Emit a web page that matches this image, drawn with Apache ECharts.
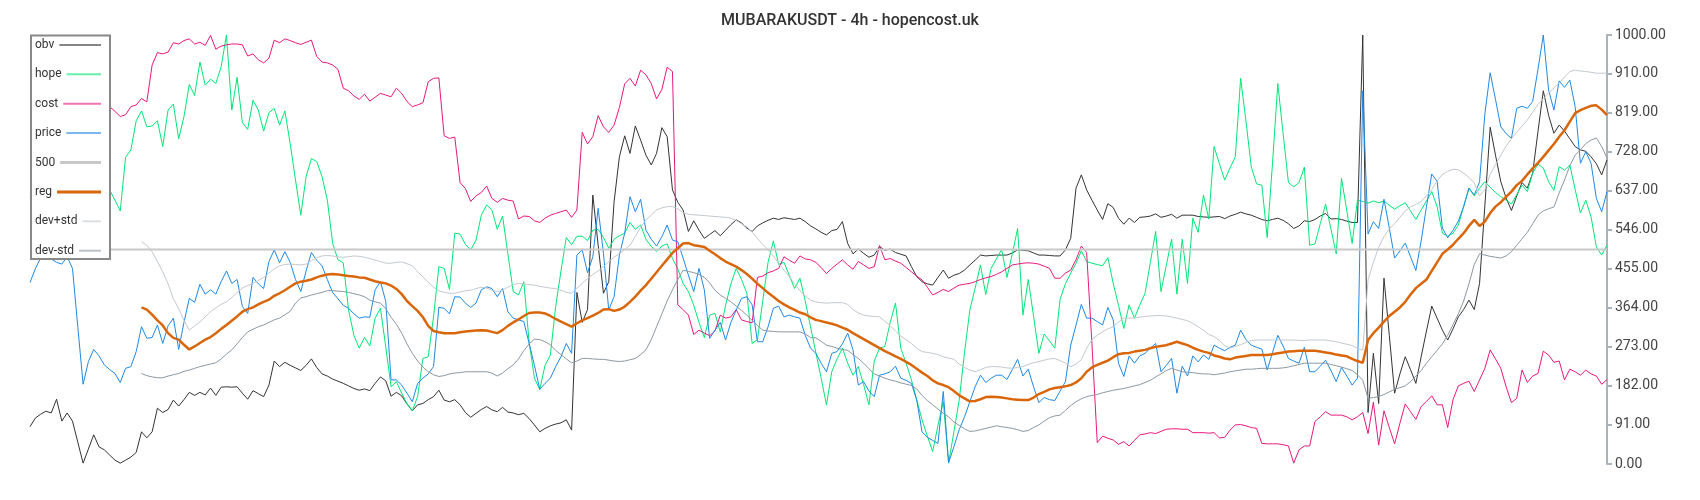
<!DOCTYPE html>
<html>
<head>
<meta charset="utf-8">
<script src="https://cdn.jsdelivr.net/npm/echarts@6/dist/echarts.min.js"></script>
<style>
html,body{margin:0;padding:0;background:#fff;}
#chart{width:1700px;height:500px;}
</style>
</head>
<body>
<div id="chart"></div>
<script>
const TITLE = 'MUBARAKUSDT - 4h - hopencost.uk';
const seriesNames = ['obv', 'hope', 'cost', 'price', '500', 'reg', 'dev+std', 'dev-std'];
const yTicks = { min: 0, max: 1000, interval: 91 };
const THRESHOLD = 500;

const obv = [
87,107,116,123,119,151,100,119,100,51,
2,35,68,40,33,21,9,2,9,16,
27,75,61,75,130,120,127,149,135,150,
167,160,167,161,177,160,179,180,179,180,
165,151,171,164,157,184,240,227,237,230,
224,218,230,245,225,210,205,198,193,188,
182,176,172,175,171,188,203,194,158,167,
159,140,124,138,141,150,157,172,149,145,
150,138,120,109,118,127,134,126,122,132,
121,119,115,118,106,91,75,83,89,93,
96,103,79,400,330,360,627,510,398,425,
611,716,765,724,788,755,720,697,724,784,
763,639,610,592,542,567,545,526,535,544,
532,545,558,569,562,550,542,555,562,568,
573,570,574,572,570,573,565,555,548,540,
534,544,547,565,514,490,501,491,482,487,
507,498,501,493,489,485,460,437,425,420,
417,435,452,433,440,444,452,464,475,487,
485,486,487,487,487,492,499,498,497,492,
487,487,486,485,485,499,526,643,674,639,
615,592,570,607,598,573,559,573,563,575,
576,578,583,575,578,582,573,580,580,580,
577,576,575,576,577,572,578,582,587,583,
580,575,570,567,570,573,568,560,549,555,
567,565,570,578,584,571,572,570,566,563,
563,1000,120,258,141,433,300,165,210,250,
220,188,250,310,368,340,312,289,315,343,
360,382,360,421,603,785,720,658,620,591,
625,656,643,678,775,870,813,771,790,776,
758,740,732,729,716,700,674,709
];

const hope = [
620,640,610,650,670,640,600,620,650,680,
700,660,640,620,630,639,615,590,715,732,
800,823,786,788,800,740,825,839,758,810,
885,859,937,883,897,887,926,1000,825,901,
796,780,848,825,776,819,829,790,823,747,
662,580,670,712,705,670,615,514,476,469,
359,300,270,295,275,340,363,273,180,192,
165,141,124,157,246,250,343,460,456,407,
538,536,512,499,522,580,604,592,547,578,
490,402,394,425,285,200,174,230,254,367,
450,528,511,531,531,521,545,547,528,503,
524,532,538,563,547,557,524,507,495,508,
513,479,455,421,402,370,330,295,347,351,
308,370,420,456,430,398,281,290,380,470,
520,465,470,440,409,433,380,320,260,200,
138,215,245,270,235,207,227,185,138,240,
270,274,330,375,270,235,196,150,103,65,
29,90,145,2,75,149,260,359,410,464,
395,456,478,500,435,490,549,347,430,345,
258,303,287,270,384,420,445,468,497,472,
468,465,462,481,421,370,316,371,340,370,
398,470,542,402,463,524,396,524,421,573,
540,627,571,740,700,662,690,716,899,800,
693,653,650,528,700,887,770,656,646,656,
692,510,513,560,606,548,490,666,590,514,
615,612,608,613,609,613,603,594,602,609,
590,570,592,613,635,600,538,531,538,557,
600,643,625,643,658,645,633,623,615,606,
628,650,635,678,699,690,658,638,693,685,
697,640,585,615,576,506,487,510
];

const cost = [
820,825,830,818,822,815,812,808,805,812,
818,822,828,830,832,833,822,810,814,833,
837,852,844,930,959,956,960,982,979,987,
991,979,983,976,999,967,974,977,979,979,
977,951,956,942,935,946,988,982,991,987,
982,978,983,988,950,937,935,930,920,876,
870,858,850,862,846,855,864,860,856,876,
864,845,833,837,842,891,899,900,765,759,
762,656,642,612,625,633,648,619,610,619,
615,613,571,578,577,567,563,573,580,584,
588,592,575,592,773,746,763,812,786,773,
790,831,886,899,881,918,907,887,851,873,
925,915,371,360,347,302,312,305,299,310,
347,340,343,360,336,332,329,435,438,446,
450,456,483,475,468,485,478,476,470,458,
444,456,466,476,464,454,472,464,456,460,
509,476,479,473,468,458,448,438,429,412,
394,400,407,402,410,417,419,421,425,430,
434,437,442,448,456,464,466,468,469,468,
466,461,456,433,433,445,452,476,508,493,
280,50,65,60,56,46,52,42,55,68,
70,73,71,76,81,82,82,81,81,73,
73,73,72,73,61,62,79,91,92,89,
85,83,48,47,47,47,45,42,2,33,
42,42,99,110,122,114,114,114,110,103,
110,120,71,144,44,124,85,47,95,140,
122,104,134,146,159,138,138,85,150,182,
188,193,169,196,223,266,245,223,180,143,
153,219,190,205,211,263,254,237,240,196,
221,215,207,219,210,205,186,197
];

const price = [
423,455,480,490,478,470,466,483,456,320,
186,239,267,252,231,220,211,190,223,227,
262,320,293,295,324,281,322,340,267,330,
386,377,419,396,406,396,425,450,421,430,
367,351,435,420,409,472,499,469,495,470,
430,402,450,493,475,462,430,400,385,370,
363,350,340,343,342,406,425,379,196,196,
184,165,145,188,200,210,227,365,363,350,
390,389,375,365,375,406,413,409,390,409,
355,340,336,332,281,230,174,188,200,227,
250,281,258,487,499,446,483,596,491,359,
390,487,538,623,588,617,545,524,508,530,
557,522,518,480,440,402,456,406,293,312,
330,289,330,359,386,390,371,285,285,320,
363,368,343,347,343,340,300,270,258,235,
215,258,262,280,305,266,184,192,170,157,
207,210,215,228,200,195,188,149,75,62,
55,48,169,3,40,80,110,145,180,207,
190,200,207,207,197,220,244,205,221,180,
143,155,150,148,170,192,277,324,372,340,
340,332,324,365,336,235,204,252,235,252,
258,270,281,215,230,246,165,228,205,252,
238,254,244,277,270,264,272,277,312,290,
277,272,268,219,260,300,275,246,240,235,
272,215,215,228,242,218,192,225,205,184,
200,870,536,565,549,617,550,480,497,515,
483,451,520,600,676,659,550,527,545,566,
600,643,627,658,817,912,850,786,770,759,
829,834,829,845,920,1000,872,825,893,878,
895,833,701,728,701,619,588,635
];

const reg = [
null,null,null,null,null,null,null,null,null,null,
null,null,null,null,null,null,null,null,null,null,
null,365,360,348,335,323,305,294,290,278,
267,274,282,290,296,305,315,324,334,344,
355,361,365,372,378,383,392,398,405,413,
421,425,427,430,435,439,442,443,442,440,
438,437,435,434,430,426,423,421,416,408,
396,380,368,357,342,322,310,307,305,305,
305,307,309,310,311,312,311,308,305,312,
322,330,337,345,352,353,353,351,345,338,
332,326,320,328,335,340,346,352,360,361,
357,360,367,378,390,404,417,432,447,462,
477,492,503,514,515,510,508,506,497,489,
480,472,466,460,452,443,432,420,410,399,
390,380,372,365,359,353,349,342,336,333,
330,327,323,318,313,305,298,291,284,277,
270,263,257,251,245,238,231,222,213,205,
195,188,184,179,170,160,153,146,147,151,
156,157,156,155,153,151,150,149,149,155,
163,168,174,177,179,181,184,190,200,215,
225,231,236,241,249,256,258,259,262,264,
266,270,273,275,277,281,285,281,277,271,
266,262,259,253,250,246,244,248,250,252,
254,254,254,254,256,258,260,262,263,264,
264,264,264,262,260,258,255,253,251,245,
240,236,289,305,318,332,345,355,365,378,
395,410,420,430,450,470,490,500,511,525,
538,555,569,555,565,585,600,610,623,635,
650,660,675,689,702,716,731,746,763,778,
798,818,825,830,835,836,826,813
];

const devPlus = [
null,null,null,null,null,null,null,null,null,null,
null,null,null,null,null,null,null,null,null,null,
null,518,510,495,472,448,420,385,362,335,
312,322,331,343,355,364,372,378,388,400,
410,416,421,428,435,445,455,462,465,466,
465,464,466,474,481,485,486,485,483,482,
483,485,484,482,479,475,472,468,468,470,
471,467,462,448,436,424,412,404,400,398,
398,401,404,405,409,412,410,405,402,405,
412,418,421,420,418,417,414,412,410,409,
405,400,398,410,421,432,442,450,460,472,
482,490,500,510,530,552,569,580,592,597,
600,600,595,586,582,581,580,579,578,577,
576,575,573,568,560,553,540,526,512,499,
485,468,452,437,420,404,392,382,378,376,
375,376,376,376,372,360,352,347,345,344,
343,333,322,310,298,290,281,270,262,260,
258,255,250,247,244,233,225,219,215,220,
225,227,227,226,224,223,225,227,232,236,
239,242,245,246,241,235,227,233,243,270,
290,300,308,315,320,331,340,340,340,342,
344,345,346,346,345,343,340,337,334,328,
320,312,302,297,288,276,270,274,278,283,
288,289,289,289,289,289,289,289,289,288,
288,289,289,289,289,287,285,282,279,276,
270,265,429,470,505,530,548,560,575,590,
599,605,612,625,640,660,675,682,687,686,
678,668,655,625,640,675,698,720,741,758,
773,788,802,820,838,852,865,876,888,902,
915,918,916,915,913,911,911,911
];

const devMinus = [
null,null,null,null,null,null,null,null,null,null,
null,null,null,null,null,null,null,null,null,null,
null,211,206,203,201,201,205,208,211,216,
219,223,227,230,233,236,245,256,266,280,
295,308,314,320,324,330,336,340,348,356,
375,387,390,394,397,400,404,404,403,402,
400,397,394,390,382,378,375,362,342,326,
305,280,258,240,226,215,208,204,206,210,
212,213,215,215,215,215,215,212,205,212,
222,231,245,264,280,291,290,285,278,265,
255,245,236,240,246,246,245,244,244,242,
240,239,240,243,246,255,266,290,320,350,
380,406,430,452,449,446,442,435,422,405,
394,386,378,368,358,347,335,323,312,310,
309,308,308,308,308,308,303,295,294,286,
277,274,270,267,265,255,246,235,222,210,
205,200,196,193,189,186,183,175,160,148,
138,128,118,110,98,90,82,76,77,80,
83,86,89,87,85,83,80,76,78,85,
91,100,108,112,114,125,136,145,152,157,
160,162,166,169,172,174,176,179,182,185,
190,195,203,210,218,223,219,215,214,213,
211,210,210,208,210,212,215,217,219,221,
221,222,223,223,223,223,224,226,229,232,
235,235,235,235,235,232,229,226,222,218,
208,195,153,155,157,162,168,174,178,182,
192,205,218,235,250,265,280,300,325,350,
380,420,465,490,487,484,482,480,485,495,
510,525,540,560,580,590,595,599,632,662,
695,720,732,747,755,760,740,713
];

const N = obv.length;
const line500 = [[0, THRESHOLD], [N - 1, THRESHOLD]];

const colors = {
  'obv': '#333333',
  'hope': '#00e676',
  'cost': '#e8177d',
  'price': '#1e88e5',
  '500': '#c8c8c8',
  'reg': '#d9660a',
  'dev+std': '#c3c9ce',
  'dev-std': '#8c98a2'
};
const widths = { 'obv': 1, 'hope': 1, 'cost': 1, 'price': 1, '500': 2, 'reg': 2.5, 'dev+std': 1, 'dev-std': 1 };
const dataByName = {
  'obv': obv, 'hope': hope, 'cost': cost, 'price': price, '500': line500,
  'reg': reg, 'dev+std': devPlus, 'dev-std': devMinus
};

const FONT = 'Roboto';
const LEG_LEFT = 35, LEG_ICON_RIGHT = 101, LEG_TOP0 = 45.9, LEG_STEP = 29.4, LEG_ITEM_H = 14;
const mctx = document.createElement('canvas').getContext('2d');
mctx.font = '12px ' + FONT;

const legends = seriesNames.map((name, k) => {
  const tw = mctx.measureText(name).width;
  const thick = widths[name] > 1.5;
  return {
    data: [{ name: name, itemStyle: { opacity: 0 } }],
    orient: 'vertical',
    left: LEG_LEFT,
    top: LEG_TOP0 + LEG_STEP * k - LEG_ITEM_H / 2,
    padding: 0,
    itemWidth: Math.max(10, LEG_ICON_RIGHT - LEG_LEFT - 5 - tw),
    itemHeight: LEG_ITEM_H,
    align: 'right',
    itemStyle: { opacity: 0 },
    textStyle: { fontSize: 12, color: '#333', fontFamily: FONT },
    lineStyle: { width: thick ? 3 : 2, opacity: thick ? 1 : 0.6 },
    z: 6
  };
});

const chart = echarts.init(document.getElementById('chart'), null, { renderer: 'canvas' });
chart.setOption({
  animation: false,
  backgroundColor: '#fff',
  title: {
    text: TITLE,
    left: 'center',
    top: 8,
    textStyle: { fontSize: 16, fontWeight: 500, color: '#333', fontFamily: FONT }
  },
  graphic: [{
    type: 'rect',
    z: 5,
    shape: { x: 31, y: 35.5, width: 79, height: 223.5 },
    style: { fill: '#fff', stroke: '#888', lineWidth: 2 }
  }],
  legend: legends,
  grid: { left: 30, right: 93, top: 35, bottom: 36, containLabel: false },
  xAxis: {
    type: 'category',
    show: false,
    boundaryGap: false
  },
  yAxis: {
    type: 'value',
    position: 'right',
    min: yTicks.min,
    max: yTicks.max,
    interval: yTicks.interval,
    axisLine: { show: true, lineStyle: { color: '#aab2ba', width: 2 } },
    axisTick: { show: true, length: 5, lineStyle: { color: '#aab2ba', width: 2 } },
    axisLabel: {
      formatter: v => v.toFixed(2),
      fontSize: 14,
      color: '#444',
      margin: 8,
      fontFamily: FONT
    },
    splitLine: { show: false }
  },
  series: seriesNames.map(name => ({
    name: name,
    type: 'line',
    data: dataByName[name],
    symbol: 'none',
    showSymbol: false,
    color: colors[name],
    lineStyle: { color: colors[name], width: widths[name] },
    emphasis: { disabled: true },
    z: 2
  }))
});
</script>
</body>
</html>
